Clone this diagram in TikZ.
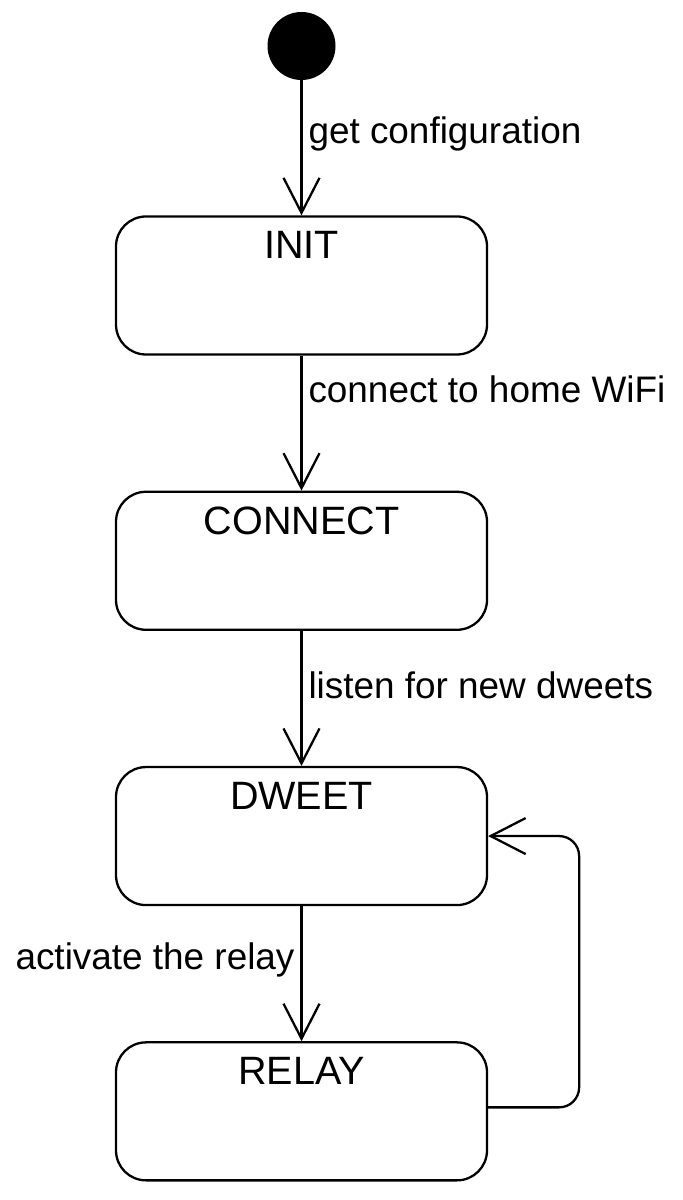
\documentclass[tikz,border=0pt]{standalone}
\usepackage{fontspec}
\setmainfont{Liberation Sans}
\usetikzlibrary{chains,arrows.meta}
\begin{document}
\begin{tikzpicture}[state/.style={draw, rounded corners=0.6cm, minimum width=7.42cm,
    minimum height=2.76cm, line width=1.3pt},
    title/.style={below=0.2cm, font=\fontsize{22.5}{24}\selectfont},
    lab/.style={font=\fontsize{21}{24}\selectfont},
    >={Straight Barb[length=0.7cm,width=0.72cm,line width=1.3pt]},
    start chain=going below, node distance=2.7cm]
    \useasboundingbox (0,0) rectangle (13.64,-24);
    \node[on chain,circle,fill,minimum size=1.36cm,inner sep=0pt] (start) at (6.03,-0.92) {};
    \node[state,on chain] (init) {};
    \node[state,on chain] (connect) {};
    \node[state,on chain] (dweet) {};
    \node[state,on chain] (relay) {};
    \node[title] at (init.north) {INIT};
    \node[title] at (connect.north) {CONNECT};
    \node[title] at (dweet.north) {DWEET};
    \node[title] at (relay.north) {RELAY};
    \draw[->,line width=1.3pt] (start) -- node[lab,right,pos=0.4] {get configuration} (init);
    \draw[->,line width=1.3pt] (init) -- node[lab,right,pos=0.25] {connect to home WiFi} (connect);
    \draw[->,line width=1.3pt] (connect) -- node[lab,right,pos=0.4] {listen for new dweets} (dweet);
    \draw[->,line width=1.3pt] (dweet) -- node[lab,left,pos=0.4] {activate the relay} (relay);
    \draw[->,line width=1.3pt,rounded corners=0.4cm] ([yshift=0.08cm]relay.east) -- ++(1.82,0) |- (dweet.east);
\end{tikzpicture}
\end{document}
